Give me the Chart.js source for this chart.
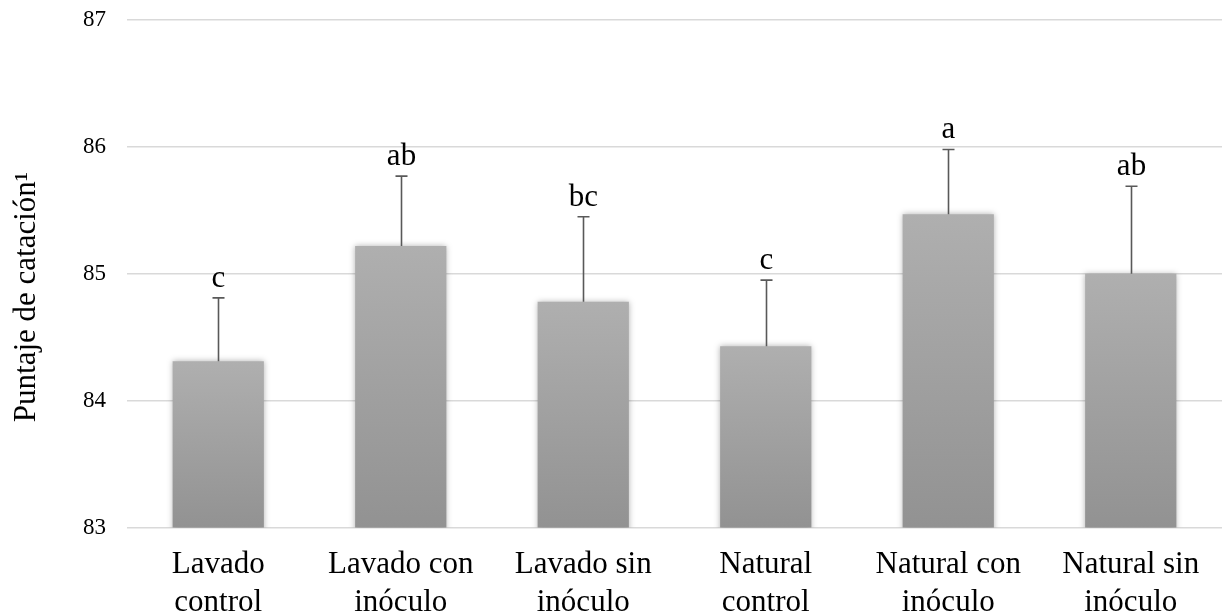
<!DOCTYPE html>
<html>
<head>
<meta charset="utf-8">
<script src="https://cdn.jsdelivr.net/npm/chart.js@4.4.1/dist/chart.umd.min.js"></script>
<style>
  html, body { margin: 0; padding: 0; background: #ffffff; }
  #wrap { width: 1222px; height: 615px; position: relative; }
</style>
</head>
<body>
<div id="wrap"><canvas id="chart"></canvas></div>
<script>
// Treatments (two-line category labels)
const categories = [
  ['Lavado', 'control'],
  ['Lavado con', 'inóculo'],
  ['Lavado sin', 'inóculo'],
  ['Natural', 'control'],
  ['Natural con', 'inóculo'],
  ['Natural sin', 'inóculo']
];
// Mean cupping score per treatment
const meanScores = [84.31, 85.22, 84.78, 84.43, 85.47, 85.00];
// Upper error (standard deviation) per treatment
const scoreErrors = [0.50, 0.55, 0.67, 0.52, 0.51, 0.69];
// Significance letters shown above each error bar
const groupLetters = ['c', 'ab', 'bc', 'c', 'a', 'ab'];
// Y axis range and step
const yMin = 83, yMax = 87, yStep = 1;
const yTitle = 'Puntaje de catación¹';

const SERIF = '"Liberation Serif", "Times New Roman", serif';

// Vertical gradient running from each bar's top to its base
function barGradient(context) {
  const chart = context.chart;
  const y = chart.scales.y;
  if (!chart.chartArea || !y || context.dataIndex === undefined) return '#a0a0a0';
  const top = y.getPixelForValue(meanScores[context.dataIndex]);
  const base = y.getPixelForValue(yMin);
  if (!isFinite(top) || !isFinite(base) || top === base) return '#a0a0a0';
  const g = chart.ctx.createLinearGradient(0, top, 0, base);
  g.addColorStop(0, '#afafaf');
  g.addColorStop(1, '#929292');
  return g;
}

// Soft shadow around the bars
const barShadow = {
  id: 'barShadow',
  beforeDatasetDraw(chart) {
    const ctx = chart.ctx;
    ctx.save();
    ctx.shadowColor = 'rgba(0,0,0,0.30)';
    ctx.shadowBlur = 6;
    ctx.shadowOffsetX = 0;
    ctx.shadowOffsetY = 0;
  },
  afterDatasetDraw(chart) {
    chart.ctx.restore();
  }
};

// Positive error bars with caps, plus the letter above each cap
const errorBars = {
  id: 'errorBars',
  afterDatasetsDraw(chart) {
    const ctx = chart.ctx;
    const y = chart.scales.y;
    const meta = chart.getDatasetMeta(0);
    ctx.save();
    meta.data.forEach((el, i) => {
      const x = Math.round(el.x) + 0.5;
      const y0 = y.getPixelForValue(meanScores[i]);
      const y1 = y.getPixelForValue(meanScores[i] + scoreErrors[i]);
      ctx.strokeStyle = '#595959';
      ctx.lineWidth = 1.6;
      ctx.beginPath();
      ctx.moveTo(x, y0);
      ctx.lineTo(x, y1);
      ctx.moveTo(x - 6, y1);
      ctx.lineTo(x + 6, y1);
      ctx.stroke();

      ctx.fillStyle = '#000000';
      ctx.font = '31px ' + SERIF;
      ctx.textAlign = 'center';
      ctx.textBaseline = 'alphabetic';
      ctx.fillText(groupLetters[i], x, y1 - 11);
    });
    ctx.restore();
  }
};

// Rotated y-axis title at the left edge
const yAxisTitle = {
  id: 'yAxisTitle',
  afterDraw(chart) {
    const ctx = chart.ctx;
    ctx.save();
    ctx.translate(35, 297);
    ctx.rotate(-Math.PI / 2);
    ctx.fillStyle = '#000000';
    ctx.font = '31px ' + SERIF;
    ctx.textAlign = 'center';
    ctx.textBaseline = 'alphabetic';
    ctx.fillText(yTitle, 0, 0);
    ctx.restore();
  }
};

new Chart(document.getElementById('chart'), {
  type: 'bar',
  data: {
    labels: categories,
    datasets: [{
      data: meanScores,
      backgroundColor: barGradient,
      borderWidth: 0,
      barPercentage: 0.5,
      categoryPercentage: 1.0
    }]
  },
  options: {
    responsive: true,
    maintainAspectRatio: false,
    animation: false,
    layout: { padding: { left: 83, right: 0, top: 20, bottom: -25 } },
    plugins: {
      legend: { display: false },
      tooltip: { enabled: false }
    },
    scales: {
      x: {
        grid: { display: false, drawTicks: false },
        border: { display: false },
        ticks: {
          color: '#000000',
          font: { family: SERIF, size: 31, lineHeight: 1.2 },
          padding: 19,
          maxRotation: 0,
          autoSkip: false
        }
      },
      y: {
        min: yMin,
        max: yMax,
        grid: {
          color: '#d9d9d9',
          lineWidth: 1.5,
          drawTicks: true,
          tickLength: 21,
          tickColor: 'rgba(0,0,0,0)'
        },
        border: { display: false },
        ticks: {
          stepSize: yStep,
          color: '#000000',
          font: { family: SERIF, size: 23 },
          padding: 0
        },
        title: { display: false }
      }
    }
  },
  plugins: [barShadow, errorBars, yAxisTitle]
});
</script>
</body>
</html>
